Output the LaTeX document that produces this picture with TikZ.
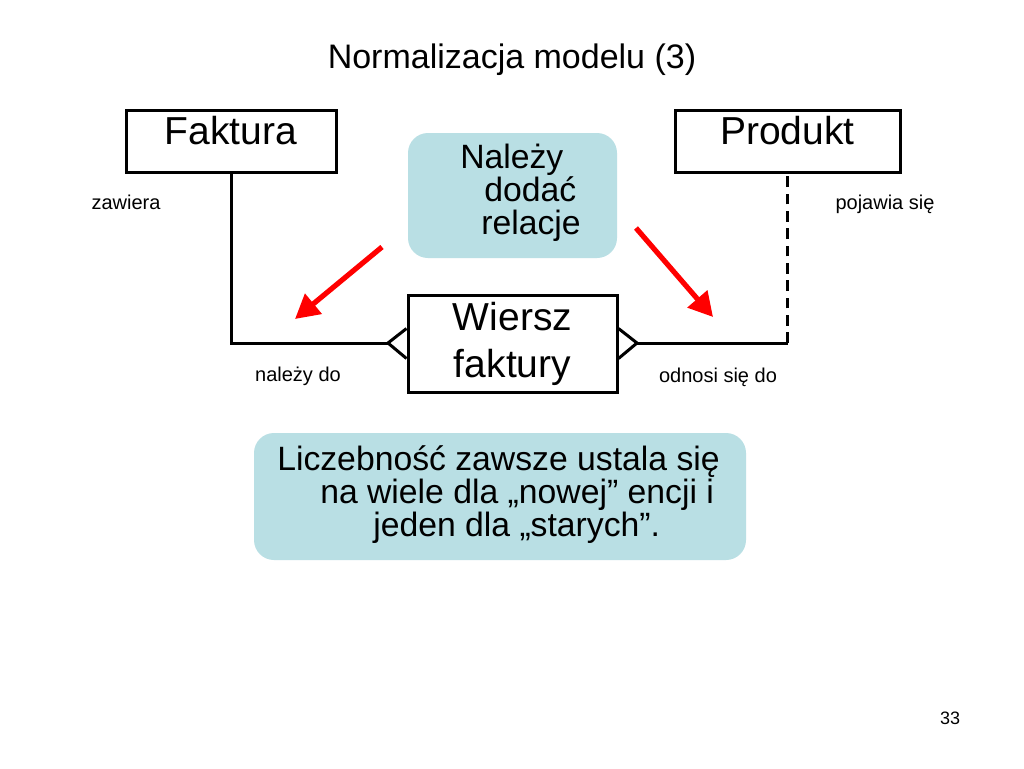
\documentclass[tikz,border=0pt]{standalone}
\usepackage{fontspec}
\setmainfont{Liberation Sans}
\usetikzlibrary{arrows.meta,calc}
\definecolor{notefill}{RGB}{185,223,228}
\definecolor{arrred}{RGB}{255,0,0}
\begin{document}
\begin{tikzpicture}[x=0.75pt,y=-0.75pt,
  entity/.style={draw=black,line width=2.25pt,inner sep=0pt,minimum width=#1},
  notebox/.style={fill=notefill,rounded corners=15pt,inner sep=0pt},
  conn/.style={line width=2.25pt,black},
  redarrow/.style={line width=3.9pt,arrred,-{Triangle[length=18pt,width=19pt]}},
  bigtxt/.style={font=\fontsize{29.25pt}{35pt}\selectfont,anchor=base,inner sep=0pt},
  notetxt/.style={font=\fontsize{25.3pt}{30pt}\selectfont,anchor=base west,inner sep=0pt},
  lbl/.style={font=\fontsize{15pt}{18pt}\selectfont,anchor=base,inner sep=0pt}]
\useasboundingbox (0,0) rectangle (1024,768);
\fill[white] (0,0) rectangle (1024,768);

% title
\node[font=\fontsize{25.5pt}{30pt}\selectfont,anchor=base,inner sep=0pt] (title) at (512,68) {Normalizacja modelu (3)};

% entities
\node[entity=157.5pt,minimum height=46.5pt] (fak) at (231,141) {};
\node[bigtxt] (fakt) at (231,144) {Faktura};
\node[entity=168.75pt,minimum height=46.5pt] (prod) at (787.5,141) {};
\node[bigtxt] (prodt) at (787.5,144) {Produkt};
\node[entity=156.75pt,minimum height=72.75pt] (wier) at (512.5,343.5) {};
\node[bigtxt] (wiert1) at (512.5,330) {Wiersz};
\node[bigtxt] (wiert2) at (512.5,377) {faktury};

% notes
\node[notebox,minimum width=156.75pt,minimum height=93.75pt] (note1) at (512.5,195.5) {};
\node[notetxt] (n1a) at (460,168) {Należy};
\node[notetxt] (n1b) at (484,201) {dodać};
\node[notetxt] (n1c) at (481,234) {relacje};
\node[notebox,minimum width=369pt,minimum height=95.25pt] (note2) at (500,496.5) {};
\node[notetxt] (n2a) at (277,470) {Liczebność zawsze ustala się};
\node[notetxt] (n2b) at (320,503) {na wiele dla „nowej” encji i};
\node[notetxt] (n2c) at (373,536) {jeden dla „starych”.};

% connectors
\coordinate (lcrow) at (388,343);
\coordinate (rcrow) at (637,343);
\coordinate (rcorner) at (787.5,343);
\draw[conn] (fak.south) |- (lcrow);
\draw[conn,line join=miter] ($(wier.west)+(0,-15)$) -- (lcrow) -- ($(wier.west)+(0,15)$);
\draw[conn,line join=miter] ($(wier.east)+(0,-15)$) -- (rcrow) -- ($(wier.east)+(0,15)$);
\draw[conn] (rcrow) -- (rcorner);
\draw[conn,dash pattern=on 8pt off 5pt] (rcorner) -- (prod.south);

% labels
\node[lbl] (l1) at (126,209) {zawiera};
\node[lbl] (l2) at (298,381) {należy do};
\node[lbl] (l3) at (718,382) {odnosi się do};
\node[lbl] (l4) at (885,209) {pojawia się};

% red arrows
\coordinate (a1s) at (382,247);
\coordinate (a1e) at (295,319);
\coordinate (a2s) at (636,228);
\coordinate (a2e) at (713,317);
\draw[redarrow] (a1s) -- (a1e);
\draw[redarrow] (a2s) -- (a2e);

% page number
\node[font=\fontsize{13.5pt}{16pt}\selectfont,anchor=base,inner sep=0pt] (pg) at (950,724) {33};
\end{tikzpicture}
\end{document}
